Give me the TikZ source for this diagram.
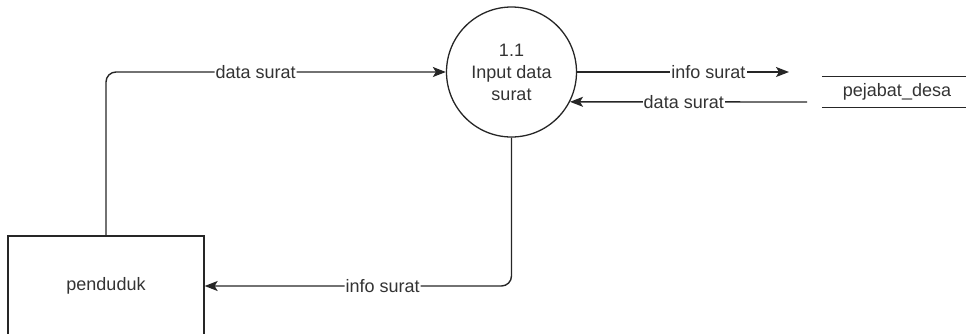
\documentclass[tikz,border=0pt]{standalone}
\usepackage{fontspec}
\setmainfont{Liberation Sans}
\usetikzlibrary{arrows.meta}
\tikzset{
    >={Stealth[length=13pt,width=10pt,inset=3pt]},
    flow/.style={->, line width=1.4pt, draw=black!85},
    lbl/.style={fill=white, inner sep=1pt, text=black!80, font=\fontsize{18}{22}\selectfont}}

\begin{document}
\begin{tikzpicture}[x=1pt, y=-1pt]
        \useasboundingbox (0,0) rectangle (966,333);

                    \node[shape=circle, draw=black!85, line width=1.3pt, minimum size=130pt, align=center, text=black!80, font=\fontsize{18}{22}\selectfont] (proc) at (511.5,72) {1.1\\Input data\\surat};
                    \node[shape=rectangle, draw=black!85, line width=1.3pt, minimum width=196pt, minimum height=100pt, text=black!80, font=\fontsize{18}{22}\selectfont] (penduduk) at (106,286) {penduduk};
                    \node[minimum width=150pt, minimum height=30pt, text=black!80, font=\fontsize{18}{22}\selectfont] (desa) at (897,92) {pejabat\_desa};
                    \coordinate (infoend) at (789,72);
                    \coordinate (datastart) at (807,102);

                    \draw[line width=1.3pt, draw=black!85] (desa.north west) -- (desa.north east);
                    \draw[line width=1.3pt, draw=black!85] (desa.south west) -- (desa.south east);

                    \draw[flow, rounded corners=10pt] (penduduk.north) |- (proc.west) node[lbl, pos=0.72] {data surat};
                    \draw[flow, rounded corners=10pt] (proc.south) |- (penduduk.east) node[lbl, pos=0.71] {info surat};
                    \draw[flow] (proc.east) -- (infoend) node[lbl, pos=0.62] {info surat};
                    \draw[flow] (datastart) -- (proc.-27.5) node[lbl, pos=0.52] {data surat};

                \end{tikzpicture}
\end{document}
